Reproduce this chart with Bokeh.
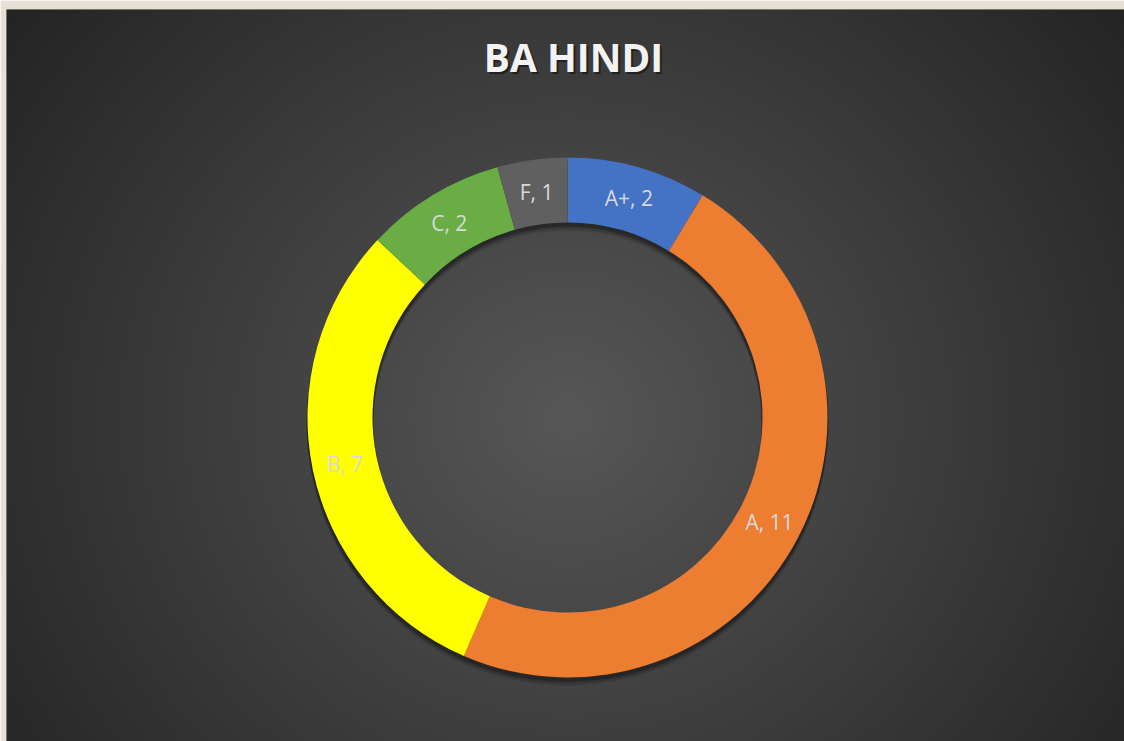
import numpy as np
from bokeh.plotting import figure
from bokeh.models import Range1d, ColumnDataSource
from bokeh.core.properties import value
from bokeh.embed import file_html
from bokeh.resources import INLINE

# ---- data ----
title_text = "BA HINDI"
grades = ["A+", "A", "B", "C", "F"]
counts = [2, 11, 7, 2, 1]
colors = ["#4472C4", "#ED7D31", "#FFFF00", "#6AAD44", "#606060"]

W, H = 1124, 741
LEFT, TOP = 6, 9                 # beige page border visible around the panel
FW, FH = W - LEFT, H - TOP       # frame size
CX, CY = 561, 408                # donut centre, pixels from the frame's top-left
R_OUT, R_IN = 260, 195

p = figure(width=W, height=H, output_backend="svg", toolbar_location=None,
           x_range=Range1d(-CX, FW - CX), y_range=Range1d(-(FH - CY), CY),
           min_border_left=LEFT, min_border_top=TOP, min_border_right=0,
           min_border_bottom=0, border_fill_color="#e7e0d5",
           background_fill_color="#2a2a2a", outline_line_color=None)
p.axis.visible = False
p.grid.visible = False

# ---- radial gradient background ----
f = 4
nx, ny = FW // f + 1, FH // f + 1
xs = np.linspace(-CX, FW - CX, nx)
ys = np.linspace(-(FH - CY), CY, ny)
XX, YY = np.meshgrid(xs, ys)
d = np.sqrt(XX ** 2 + (YY * 1.05) ** 2)
v = np.clip(87 - 0.072 * d, 36, 90).astype(np.uint32)
img = (255 << 24) | (v << 16) | (v << 8) | v
p.image_rgba(image=[img.astype(np.uint32)], x=-CX, y=-(FH - CY), dw=FW, dh=FH)

# ---- donut geometry from data ----
total = float(sum(counts))
cum = np.cumsum([0] + counts)
start = np.pi / 2 - cum[:-1] / total * 2 * np.pi
end = np.pi / 2 - cum[1:] / total * 2 * np.pi
mid = (start + end) / 2
r_mid = (R_OUT + R_IN) / 2
src = ColumnDataSource(dict(
    grade=grades, count=counts, color=colors, start=start, end=end,
    lx=r_mid * np.cos(mid), ly=r_mid * np.sin(mid),
    label=[f"{g}, {c}" for g, c in zip(grades, counts)],
))

# soft shadow
for off, a in [(7, 0.10), (5, 0.15), (3, 0.25)]:
    p.annulus(x=0, y=-off, inner_radius=R_IN - 1, outer_radius=R_OUT + 1,
              fill_color="black", fill_alpha=a, line_color=None)

p.annular_wedge(x=0, y=0, inner_radius=R_IN, outer_radius=R_OUT,
                start_angle="end", end_angle="start", direction="anticlock",
                fill_color="color", line_color=None, source=src)

p.text(x="lx", y="ly", text="label", source=src, text_align="center",
       text_baseline="middle", text_color="#d9d9d9", text_font=value("Open Sans"),
       text_font_size="21px")

# ---- title ----
p.text(x=[8], y=[359], text=[title_text], text_align="center", text_baseline="middle",
       text_color="black", text_alpha=0.45, text_font=value("Open Sans"),
       text_font_style="bold", text_font_size="39px")
p.text(x=[6], y=[361], text=[title_text], text_align="center", text_baseline="middle",
       text_color="#f2f2f2", text_font=value("Open Sans"),
       text_font_style="bold", text_font_size="39px")

open("out.html", "w").write(file_html(p, INLINE))
